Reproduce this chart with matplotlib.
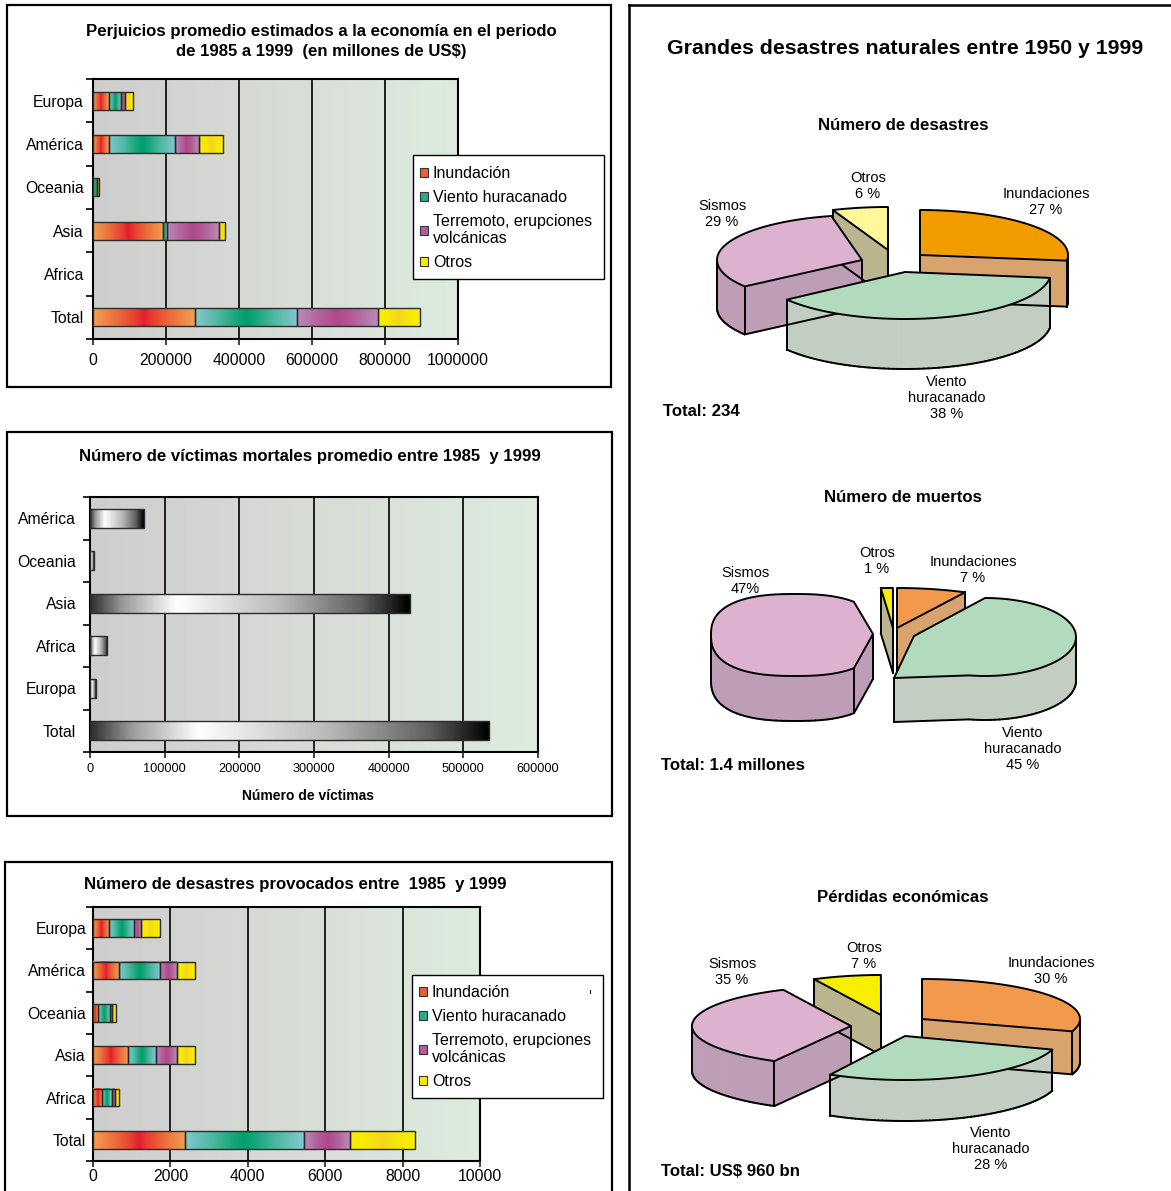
import numpy as np
import matplotlib
matplotlib.use('Agg')
import matplotlib.pyplot as plt
from matplotlib.colors import LinearSegmentedColormap
from matplotlib.lines import Line2D
from matplotlib.patches import Patch, Rectangle

plt.rcParams['font.family'] = ['Liberation Sans', 'DejaVu Sans']

W, H = 1171, 1191

# bar chart data
loss_cats = ['Europa', 'América', 'Oceania', 'Asia', 'Africa', 'Total']
loss_flood = [43000, 43000, 0, 192000, 0, 279000]
loss_wind = [33000, 182000, 11000, 10000, 0, 281000]
loss_quake = [12000, 65000, 1000, 143000, 0, 220000]
loss_other = [21000, 67000, 4000, 18000, 0, 115000]
loss_ticks = [0, 200000, 400000, 600000, 800000, 1000000]

death_cats = ['América', 'Oceania', 'Asia', 'Africa', 'Europa', 'Total']
death_vals = [72000, 5000, 428000, 23000, 8000, 535000]
death_ticks = [0, 100000, 200000, 300000, 400000, 500000, 600000]

count_cats = ['Europa', 'América', 'Oceania', 'Asia', 'Africa', 'Total']
count_flood = [420, 660, 120, 910, 240, 2390]
count_wind = [650, 1080, 320, 710, 240, 3060]
count_quake = [180, 420, 40, 540, 80, 1200]
count_other = [490, 480, 120, 480, 100, 1680]
count_ticks = [0, 2000, 4000, 6000, 8000, 10000]

legend_labels = ['Inundación', 'Viento huracanado', 'Terremoto, erupciones\nvolcánicas', 'Otros']

# pie data, percent shares as printed
pie1_shares = {'flood': 27, 'wind': 38, 'quake': 29, 'other': 6}
pie2_shares = {'flood': 7, 'wind': 45, 'quake': 47, 'other': 1}
pie3_shares = {'flood': 30, 'wind': 28, 'quake': 35, 'other': 7}

# gradient stops, centre of the segment to its ends
cmaps = [
    LinearSegmentedColormap.from_list('flood', [(0, '#E41E2E'), (0.15, '#E83A30'), (0.5, '#EC6A38'), (1, '#F2A052')]),
    LinearSegmentedColormap.from_list('wind', [(0, '#00A06C'), (0.2, '#18A67C'), (0.55, '#50B8A0'), (1, '#82C8D2')]),
    LinearSegmentedColormap.from_list('quake', [(0, '#B0478C'), (0.5, '#B4649E'), (1, '#BC8CBA')]),
    LinearSegmentedColormap.from_list('other', [(0, '#F6D61E'), (0.5, '#F8E808'), (1, '#F8EE00')]),
]
# the grey bars run one way along their length, left to right
mono_cmap = LinearSegmentedColormap.from_list(
    'mono', [(0, '#303030'), (0.1, '#9A9A9A'), (0.27, '#FFFFFF'), (0.6, '#B8B8B8'), (0.85, '#606060'), (1, '#000000')])
legend_colors = ['#EC5F38', '#27AB8E', '#B75C9A', '#F8EC00']
bg_cmap = LinearSegmentedColormap.from_list('bg', ['#CECECE', '#D8DCD6', '#DDECDF'])

fig = plt.figure(figsize=(W / 100, H / 100), dpi=100, facecolor='white')

# overlay in pixel coordinates for frames, texts and the pies
page = fig.add_axes([0, 0, 1, 1], zorder=0)
page.set_xlim(0, W)
page.set_ylim(H, 0)
page.axis('off')


def px_axes(x0, y0, x1, y1):
    ax = fig.add_axes([x0 / W, 1 - y1 / H, (x1 - x0) / W, (y1 - y0) / H], zorder=1)
    return ax


def frame(x0, y0, x1, y1):
    page.add_patch(Rectangle((x0, y0), x1 - x0, y1 - y0, fc='white', ec='black', lw=1.6, clip_on=False))


def draw_segment(ax, y, left, width, cmap, height):
    if width <= 0:
        return
    ax.barh(y, width, left=left, height=height, fc='none', ec='#2b2b2b', lw=1.0, zorder=4)
    if cmap is mono_cmap:
        grad = np.linspace(0, 1, 201).reshape(1, -1)
    else:
        grad = np.abs(np.linspace(-1, 1, 201)).reshape(1, -1)
    ax.imshow(grad, extent=(left, left + width, y + height / 2, y - height / 2), aspect='auto',
              cmap=cmap, vmin=0, vmax=1, zorder=3)


def bar_chart(box, cats, series, ticks, colormaps, height, tick_size, pad, label_pad):
    ax = px_axes(*box)
    xmax = ticks[-1]
    ax.imshow(np.linspace(0, 1, 256).reshape(1, -1), extent=(0, xmax, len(cats) - 0.5, -0.5),
              aspect='auto', cmap=bg_cmap, zorder=0)
    for i in range(len(cats)):
        left = 0
        for vals, cm in zip(series, colormaps):
            draw_segment(ax, i, left, vals[i], cm, height)
            left += vals[i]
    ax.set_xlim(0, xmax)
    ax.set_ylim(len(cats) - 0.5, -0.5)
    ax.set_xticks(ticks)
    ax.set_xticklabels([str(t) for t in ticks], fontsize=tick_size)
    ax.tick_params(axis='x', length=4, width=1.2, pad=pad, color='#222222')
    ax.set_yticks(np.arange(len(cats) + 1) - 0.5)
    ax.set_yticklabels([])
    ax.tick_params(axis='y', length=5, width=1.2)
    ax.set_yticks(np.arange(len(cats)), minor=True)
    ax.set_yticklabels(cats, minor=True, fontsize=11.3)
    ax.tick_params(axis='y', which='minor', length=0, pad=label_pad)
    ax.grid(axis='x', color='black', lw=1.2)
    ax.set_axisbelow(False)
    for gl in ax.get_xgridlines():
        gl.set_zorder(2)
    for s in ax.spines.values():
        s.set_linewidth(1.5)
    return ax


def add_legend(ax, x0, y0, x1, y1, top_gap):
    # the box is drawn apart so its size does not depend on the legend contents
    ax.add_patch(Rectangle((x0 / W, 1 - y1 / H), (x1 - x0) / W, (y1 - y0) / H, transform=fig.transFigure,
                           fc='white', ec='black', lw=1.0, clip_on=False, zorder=9))
    handles = [Patch(fc=c, ec='#333333', lw=0.8) for c in legend_colors]
    leg = ax.legend(handles, legend_labels, loc='upper left', fontsize=11.5,
                    bbox_to_anchor=(x0 / W, 1 - (y0 + top_gap) / H),
                    bbox_transform=fig.transFigure, borderaxespad=0, frameon=False,
                    handlelength=0.52, handleheight=0.52, handletextpad=0.28, borderpad=0.45,
                    labelspacing=0.55)
    leg.set_zorder(10)
    return leg


def rim_points(slc, share):
    # slice outline: vertex, then the rim clockwise from its start angle, then the toe if any
    span = slc['k'] * 3.6 * share
    th = np.radians(np.linspace(slc['a0'], slc['a0'] - span, 70))
    p = slc.get('p', 1.0)
    cx, cy = slc.get('rim', slc['v'])
    xs = cx + slc['rx'] * np.sign(np.cos(th)) * np.abs(np.cos(th)) ** p
    ys = cy - slc['ry'] * np.sign(np.sin(th)) * np.abs(np.sin(th)) ** p
    pts = np.column_stack([np.r_[slc['v'][0], xs], np.r_[slc['v'][1], ys]])
    if 'toe' in slc:
        pts = np.vstack([pts, slc['toe']])
    return pts


def draw_slice(slc, share, top, side):
    pts = rim_points(slc, share)
    d = slc['d']
    n = len(pts)
    closed = np.vstack([pts, pts[:1]])
    # clockwise on screen with y down, so an edge running left faces the viewer
    visible = [closed[i + 1, 0] < closed[i, 0] for i in range(n)]
    for i in range(n):
        if visible[i]:
            a, b = closed[i], closed[i + 1]
            page.fill([a[0], b[0], b[0], a[0]], [a[1], b[1], b[1] + d, a[1] + d], fc=side, ec=side, lw=0.6, zorder=2)
            page.plot([a[0], b[0]], [a[1] + d, b[1] + d], color='black', lw=1.4, zorder=3, solid_capstyle='round')
    for i in range(n):
        prev_v, next_v = visible[i - 1], visible[i]
        e1 = pts[i] - pts[i - 1]
        e2 = closed[i + 1] - pts[i]
        turn = abs(np.degrees(np.arctan2(e1[0] * e2[1] - e1[1] * e2[0], e1 @ e2)))
        if (prev_v or next_v) and (prev_v != next_v or turn > 25):
            page.plot([pts[i, 0]] * 2, [pts[i, 1], pts[i, 1] + d], color='black', lw=1.4, zorder=3)
    page.fill(pts[:, 0], pts[:, 1], fc=top, ec='black', lw=1.4, zorder=3, joinstyle='round')


def label(x, y, s, size=10.5, weight='normal'):
    page.text(x, y, s, ha='center', va='center', fontsize=size, fontweight=weight, linespacing=1.2)


# frames
frame(7, 5, 611, 387)
frame(7, 432, 612, 816)
frame(5, 862, 612, 1200)
page.plot([629, 629], [1195, 5], color='black', lw=1.8)
page.plot([629, 1175], [5, 5], color='black', lw=1.8)

# top left chart
ax1 = bar_chart((93, 79, 458, 339), loss_cats, [loss_flood, loss_wind, loss_quake, loss_other],
                loss_ticks, cmaps, 0.41, 11.3, 6, 6.5)
add_legend(ax1, 413, 155, 604, 279, 4)
page.text(321, 41.5, 'Perjuicios promedio estimados a la economía en el periodo\nde 1985 a 1999  (en millones de US$)',
          ha='center', va='center', fontsize=12.1, fontweight='bold', linespacing=1.4)

# middle left chart
ax2 = bar_chart((90, 497, 538, 752), death_cats, [death_vals], death_ticks, [mono_cmap], 0.44, 9.2, 4, 10)
page.text(310, 457, 'Número de víctimas mortales promedio entre 1985  y 1999', ha='center', va='center',
          fontsize=12.1, fontweight='bold')
page.text(308, 796.5, 'Número de víctimas', ha='center', va='center', fontsize=10, fontweight='bold')

# bottom left chart
ax3 = bar_chart((93, 907, 480, 1161), count_cats, [count_flood, count_wind, count_quake, count_other],
                count_ticks, cmaps, 0.42, 11.3, 1.5, 5)
add_legend(ax3, 412, 975, 603, 1098, 3)
# stray speck in the legend box of the scan
fig.add_artist(Line2D([589.5 / W] * 2, [1 - 989.5 / H, 1 - 993 / H], color='black', lw=0.8, zorder=5))
page.text(295, 884.5, 'Número de desastres provocados entre  1985  y 1999', ha='center', va='center',
          fontsize=12.1, fontweight='bold')

# right column
page.text(905, 48, 'Grandes desastres naturales entre 1950 y 1999', ha='center', va='center',
          fontsize=15.3, fontweight='bold')

colors1 = {'flood': ('#F39C00', '#D8A36C'), 'wind': ('#B2DBBD', '#C3CEC3'),
           'quake': ('#DCB2D0', '#BE9DB6'), 'other': ('#FFF89A', '#BAB58F')}
colors2 = {'flood': ('#F2994E', '#D8A36C'), 'wind': ('#B2DBBD', '#C3CEC3'),
           'quake': ('#DCB2D0', '#BE9DB6'), 'other': ('#F8EE00', '#BAB58F')}

pie1_layout = [
    ('other', dict(v=(888, 250), rx=150, ry=43, a0=111.6, k=1.0, d=48)),
    ('flood', dict(v=(920, 255), rx=148, ry=45, a0=90, k=1.0, d=46)),
    ('quake', dict(v=(862, 260), rx=145, ry=45, a0=-144, k=1.09, d=48)),
    ('wind', dict(v=(905, 272), rx=146, ry=47, a0=-7.2, k=1.0, d=50)),
]
pie2_layout = [
    ('other', dict(v=(893, 628), rx=150, ry=40, a0=94.7, k=1.3, d=45)),
    ('flood', dict(v=(897, 628), rx=150, ry=40, a0=90, k=1.07, d=45)),
    ('quake', dict(v=(873, 634), rim=(795, 635), rx=84, ry=41, a0=-50, k=1.536, p=0.8, d=45)),
    ('wind', dict(v=(914, 636), rim=(985, 637), rx=91, ry=39, a0=90, k=1.173, toe=(894, 678), d=44)),
]
pie3_layout = [
    ('other', dict(v=(881, 1015), rx=150, ry=40, a0=116.5, k=1.05, d=40)),
    ('flood', dict(v=(922, 1019), rx=158, ry=40, a0=90, k=1.0, d=43)),
    ('quake', dict(v=(851, 1026), rx=159, ry=40, a0=-118.8, k=1.0, d=45)),
    ('wind', dict(v=(905, 1036), rx=155, ry=44, a0=-18, k=1.0, d=41)),
]
for layout, shares, colors in [(pie1_layout, pie1_shares, colors1), (pie2_layout, pie2_shares, colors2),
                               (pie3_layout, pie3_shares, colors2)]:
    for key, slc in layout:
        draw_slice(slc, shares[key], *colors[key])

label(903, 126, 'Número de desastres', 12.1, 'bold')
label(868, 186, 'Otros\n%d %%' % pie1_shares['other'])
label(1046, 202, 'Inundaciones\n%d %%' % pie1_shares['flood'])
label(722, 214, 'Sismos\n%d %%' % pie1_shares['quake'])
label(947, 398, 'Viento\nhuracanado\n%d %%' % pie1_shares['wind'])
page.text(663, 411, 'Total: 234', va='center', fontsize=12.1, fontweight='bold')

label(903, 498, 'Número de muertos', 12.1, 'bold')
label(877, 561, 'Otros\n%d %%' % pie2_shares['other'])
label(973, 570, 'Inundaciones\n%d %%' % pie2_shares['flood'])
label(745, 581, 'Sismos\n%d%%' % pie2_shares['quake'])
label(1023, 749, 'Viento\nhuracanado\n%d %%' % pie2_shares['wind'])
page.text(661, 766, 'Total: 1.4 millones', va='center', fontsize=12.1, fontweight='bold')

label(903, 897, 'Pérdidas económicas', 12.1, 'bold')
label(864, 956, 'Otros\n%d %%' % pie3_shares['other'])
label(1051, 971, 'Inundaciones\n%d %%' % pie3_shares['flood'])
label(732, 972, 'Sismos\n%d %%' % pie3_shares['quake'])
label(991, 1149, 'Viento\nhuracanado\n%d %%' % pie3_shares['wind'])
page.text(661, 1171, 'Total: US$ 960 bn', va='center', fontsize=12.1, fontweight='bold')

fig.savefig('out.png', dpi=100)
